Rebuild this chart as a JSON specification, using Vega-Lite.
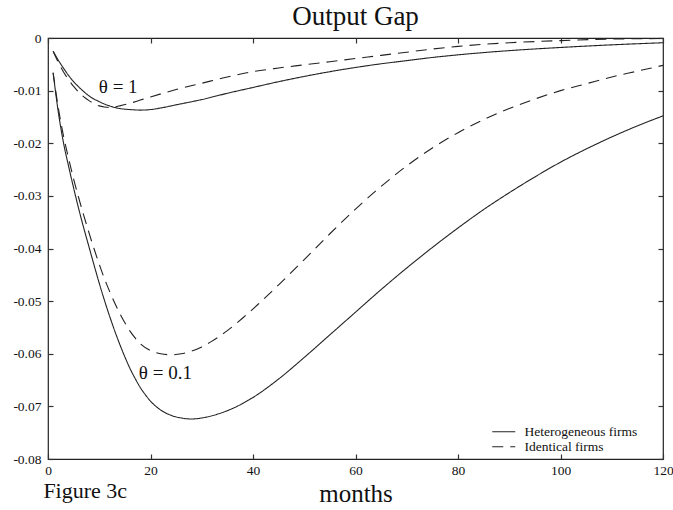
{
  "$schema": "https://vega.github.io/schema/vega-lite/v6.json",
  "width": 615,
  "height": 421,
  "autosize": "none",
  "padding": {"left": 48, "top": 38, "right": 10, "bottom": 51},
  "background": "white",
  "config": {
    "font": "Liberation Serif",
    "view": {"stroke": "#222", "strokeWidth": 1.2},
    "axis": {"grid": false, "domain": false, "ticks": true, "tickSize": 5, "offset": -5, "tickColor": "#333", "tickWidth": 1.2, "labelColor": "#111", "titleColor": "#111", "labelFont": "Liberation Serif", "titleFont": "Liberation Serif", "titleFontWeight": "normal"}
  },
  "title": {"text": "Output Gap", "fontSize": 27, "fontWeight": "normal", "font": "Liberation Serif", "color": "#111", "anchor": "middle", "offset": 0},
  "datasets": {
    "curves": [
      {"month": 1, "gap": -0.0025, "theta": "1", "firms": "Heterogeneous firms"},
      {"month": 2, "gap": -0.0042, "theta": "1", "firms": "Heterogeneous firms"},
      {"month": 3, "gap": -0.0057, "theta": "1", "firms": "Heterogeneous firms"},
      {"month": 4, "gap": -0.0071, "theta": "1", "firms": "Heterogeneous firms"},
      {"month": 5, "gap": -0.0083, "theta": "1", "firms": "Heterogeneous firms"},
      {"month": 6, "gap": -0.0093, "theta": "1", "firms": "Heterogeneous firms"},
      {"month": 7, "gap": -0.0102, "theta": "1", "firms": "Heterogeneous firms"},
      {"month": 8, "gap": -0.0110, "theta": "1", "firms": "Heterogeneous firms"},
      {"month": 10, "gap": -0.0121, "theta": "1", "firms": "Heterogeneous firms"},
      {"month": 12, "gap": -0.0129, "theta": "1", "firms": "Heterogeneous firms"},
      {"month": 14, "gap": -0.0134, "theta": "1", "firms": "Heterogeneous firms"},
      {"month": 16, "gap": -0.0136, "theta": "1", "firms": "Heterogeneous firms"},
      {"month": 18, "gap": -0.0137, "theta": "1", "firms": "Heterogeneous firms"},
      {"month": 20, "gap": -0.0136, "theta": "1", "firms": "Heterogeneous firms"},
      {"month": 22, "gap": -0.0133, "theta": "1", "firms": "Heterogeneous firms"},
      {"month": 25, "gap": -0.0127, "theta": "1", "firms": "Heterogeneous firms"},
      {"month": 30, "gap": -0.0117, "theta": "1", "firms": "Heterogeneous firms"},
      {"month": 35, "gap": -0.0105, "theta": "1", "firms": "Heterogeneous firms"},
      {"month": 40, "gap": -0.0094, "theta": "1", "firms": "Heterogeneous firms"},
      {"month": 45, "gap": -0.0083, "theta": "1", "firms": "Heterogeneous firms"},
      {"month": 50, "gap": -0.0073, "theta": "1", "firms": "Heterogeneous firms"},
      {"month": 55, "gap": -0.0064, "theta": "1", "firms": "Heterogeneous firms"},
      {"month": 60, "gap": -0.0056, "theta": "1", "firms": "Heterogeneous firms"},
      {"month": 65, "gap": -0.0049, "theta": "1", "firms": "Heterogeneous firms"},
      {"month": 70, "gap": -0.0043, "theta": "1", "firms": "Heterogeneous firms"},
      {"month": 75, "gap": -0.0037, "theta": "1", "firms": "Heterogeneous firms"},
      {"month": 80, "gap": -0.0032, "theta": "1", "firms": "Heterogeneous firms"},
      {"month": 90, "gap": -0.0024, "theta": "1", "firms": "Heterogeneous firms"},
      {"month": 100, "gap": -0.0018, "theta": "1", "firms": "Heterogeneous firms"},
      {"month": 110, "gap": -0.0013, "theta": "1", "firms": "Heterogeneous firms"},
      {"month": 120, "gap": -0.0009, "theta": "1", "firms": "Heterogeneous firms"},

      {"month": 1, "gap": -0.0025, "theta": "1", "firms": "Identical firms"},
      {"month": 2, "gap": -0.0046, "theta": "1", "firms": "Identical firms"},
      {"month": 3, "gap": -0.0064, "theta": "1", "firms": "Identical firms"},
      {"month": 4, "gap": -0.0079, "theta": "1", "firms": "Identical firms"},
      {"month": 5, "gap": -0.0092, "theta": "1", "firms": "Identical firms"},
      {"month": 6, "gap": -0.0103, "theta": "1", "firms": "Identical firms"},
      {"month": 7, "gap": -0.0112, "theta": "1", "firms": "Identical firms"},
      {"month": 8, "gap": -0.0119, "theta": "1", "firms": "Identical firms"},
      {"month": 9, "gap": -0.0125, "theta": "1", "firms": "Identical firms"},
      {"month": 10, "gap": -0.0129, "theta": "1", "firms": "Identical firms"},
      {"month": 11, "gap": -0.0131, "theta": "1", "firms": "Identical firms"},
      {"month": 12, "gap": -0.0132, "theta": "1", "firms": "Identical firms"},
      {"month": 13, "gap": -0.0131, "theta": "1", "firms": "Identical firms"},
      {"month": 14, "gap": -0.0129, "theta": "1", "firms": "Identical firms"},
      {"month": 16, "gap": -0.0124, "theta": "1", "firms": "Identical firms"},
      {"month": 18, "gap": -0.0118, "theta": "1", "firms": "Identical firms"},
      {"month": 20, "gap": -0.0112, "theta": "1", "firms": "Identical firms"},
      {"month": 25, "gap": -0.0098, "theta": "1", "firms": "Identical firms"},
      {"month": 30, "gap": -0.0086, "theta": "1", "firms": "Identical firms"},
      {"month": 35, "gap": -0.0074, "theta": "1", "firms": "Identical firms"},
      {"month": 40, "gap": -0.0064, "theta": "1", "firms": "Identical firms"},
      {"month": 45, "gap": -0.0057, "theta": "1", "firms": "Identical firms"},
      {"month": 50, "gap": -0.0051, "theta": "1", "firms": "Identical firms"},
      {"month": 55, "gap": -0.0045, "theta": "1", "firms": "Identical firms"},
      {"month": 60, "gap": -0.0039, "theta": "1", "firms": "Identical firms"},
      {"month": 65, "gap": -0.0033, "theta": "1", "firms": "Identical firms"},
      {"month": 70, "gap": -0.0027, "theta": "1", "firms": "Identical firms"},
      {"month": 75, "gap": -0.0021, "theta": "1", "firms": "Identical firms"},
      {"month": 80, "gap": -0.0016, "theta": "1", "firms": "Identical firms"},
      {"month": 85, "gap": -0.0012, "theta": "1", "firms": "Identical firms"},
      {"month": 90, "gap": -0.0009, "theta": "1", "firms": "Identical firms"},
      {"month": 100, "gap": -0.0005, "theta": "1", "firms": "Identical firms"},
      {"month": 110, "gap": -0.0002, "theta": "1", "firms": "Identical firms"},
      {"month": 120, "gap": -0.0001, "theta": "1", "firms": "Identical firms"},

      {"month": 1, "gap": -0.0066, "theta": "0.1", "firms": "Heterogeneous firms"},
      {"month": 2, "gap": -0.0140, "theta": "0.1", "firms": "Heterogeneous firms"},
      {"month": 3, "gap": -0.0198, "theta": "0.1", "firms": "Heterogeneous firms"},
      {"month": 4, "gap": -0.0243, "theta": "0.1", "firms": "Heterogeneous firms"},
      {"month": 5, "gap": -0.0285, "theta": "0.1", "firms": "Heterogeneous firms"},
      {"month": 6, "gap": -0.0325, "theta": "0.1", "firms": "Heterogeneous firms"},
      {"month": 7, "gap": -0.0362, "theta": "0.1", "firms": "Heterogeneous firms"},
      {"month": 8, "gap": -0.0397, "theta": "0.1", "firms": "Heterogeneous firms"},
      {"month": 9, "gap": -0.0432, "theta": "0.1", "firms": "Heterogeneous firms"},
      {"month": 10, "gap": -0.0466, "theta": "0.1", "firms": "Heterogeneous firms"},
      {"month": 11, "gap": -0.0498, "theta": "0.1", "firms": "Heterogeneous firms"},
      {"month": 12, "gap": -0.0528, "theta": "0.1", "firms": "Heterogeneous firms"},
      {"month": 13, "gap": -0.0556, "theta": "0.1", "firms": "Heterogeneous firms"},
      {"month": 14, "gap": -0.0582, "theta": "0.1", "firms": "Heterogeneous firms"},
      {"month": 15, "gap": -0.0606, "theta": "0.1", "firms": "Heterogeneous firms"},
      {"month": 16, "gap": -0.0628, "theta": "0.1", "firms": "Heterogeneous firms"},
      {"month": 17, "gap": -0.0647, "theta": "0.1", "firms": "Heterogeneous firms"},
      {"month": 18, "gap": -0.0664, "theta": "0.1", "firms": "Heterogeneous firms"},
      {"month": 19, "gap": -0.0678, "theta": "0.1", "firms": "Heterogeneous firms"},
      {"month": 20, "gap": -0.0690, "theta": "0.1", "firms": "Heterogeneous firms"},
      {"month": 22, "gap": -0.0707, "theta": "0.1", "firms": "Heterogeneous firms"},
      {"month": 24, "gap": -0.0717, "theta": "0.1", "firms": "Heterogeneous firms"},
      {"month": 26, "gap": -0.0722, "theta": "0.1", "firms": "Heterogeneous firms"},
      {"month": 28, "gap": -0.0724, "theta": "0.1", "firms": "Heterogeneous firms"},
      {"month": 30, "gap": -0.0722, "theta": "0.1", "firms": "Heterogeneous firms"},
      {"month": 33, "gap": -0.0715, "theta": "0.1", "firms": "Heterogeneous firms"},
      {"month": 36, "gap": -0.0704, "theta": "0.1", "firms": "Heterogeneous firms"},
      {"month": 40, "gap": -0.0683, "theta": "0.1", "firms": "Heterogeneous firms"},
      {"month": 45, "gap": -0.0648, "theta": "0.1", "firms": "Heterogeneous firms"},
      {"month": 50, "gap": -0.0607, "theta": "0.1", "firms": "Heterogeneous firms"},
      {"month": 55, "gap": -0.0564, "theta": "0.1", "firms": "Heterogeneous firms"},
      {"month": 60, "gap": -0.0521, "theta": "0.1", "firms": "Heterogeneous firms"},
      {"month": 65, "gap": -0.0478, "theta": "0.1", "firms": "Heterogeneous firms"},
      {"month": 70, "gap": -0.0437, "theta": "0.1", "firms": "Heterogeneous firms"},
      {"month": 75, "gap": -0.0398, "theta": "0.1", "firms": "Heterogeneous firms"},
      {"month": 80, "gap": -0.0361, "theta": "0.1", "firms": "Heterogeneous firms"},
      {"month": 85, "gap": -0.0326, "theta": "0.1", "firms": "Heterogeneous firms"},
      {"month": 90, "gap": -0.0294, "theta": "0.1", "firms": "Heterogeneous firms"},
      {"month": 95, "gap": -0.0264, "theta": "0.1", "firms": "Heterogeneous firms"},
      {"month": 100, "gap": -0.0236, "theta": "0.1", "firms": "Heterogeneous firms"},
      {"month": 105, "gap": -0.0211, "theta": "0.1", "firms": "Heterogeneous firms"},
      {"month": 110, "gap": -0.0188, "theta": "0.1", "firms": "Heterogeneous firms"},
      {"month": 115, "gap": -0.0167, "theta": "0.1", "firms": "Heterogeneous firms"},
      {"month": 120, "gap": -0.0148, "theta": "0.1", "firms": "Heterogeneous firms"},

      {"month": 1, "gap": -0.0066, "theta": "0.1", "firms": "Identical firms"},
      {"month": 2, "gap": -0.0132, "theta": "0.1", "firms": "Identical firms"},
      {"month": 3, "gap": -0.0185, "theta": "0.1", "firms": "Identical firms"},
      {"month": 4, "gap": -0.0228, "theta": "0.1", "firms": "Identical firms"},
      {"month": 5, "gap": -0.0268, "theta": "0.1", "firms": "Identical firms"},
      {"month": 6, "gap": -0.0304, "theta": "0.1", "firms": "Identical firms"},
      {"month": 7, "gap": -0.0338, "theta": "0.1", "firms": "Identical firms"},
      {"month": 8, "gap": -0.0370, "theta": "0.1", "firms": "Identical firms"},
      {"month": 9, "gap": -0.0401, "theta": "0.1", "firms": "Identical firms"},
      {"month": 10, "gap": -0.0430, "theta": "0.1", "firms": "Identical firms"},
      {"month": 11, "gap": -0.0457, "theta": "0.1", "firms": "Identical firms"},
      {"month": 12, "gap": -0.0481, "theta": "0.1", "firms": "Identical firms"},
      {"month": 13, "gap": -0.0503, "theta": "0.1", "firms": "Identical firms"},
      {"month": 14, "gap": -0.0523, "theta": "0.1", "firms": "Identical firms"},
      {"month": 15, "gap": -0.0541, "theta": "0.1", "firms": "Identical firms"},
      {"month": 16, "gap": -0.0557, "theta": "0.1", "firms": "Identical firms"},
      {"month": 17, "gap": -0.0570, "theta": "0.1", "firms": "Identical firms"},
      {"month": 18, "gap": -0.0581, "theta": "0.1", "firms": "Identical firms"},
      {"month": 20, "gap": -0.0594, "theta": "0.1", "firms": "Identical firms"},
      {"month": 22, "gap": -0.0600, "theta": "0.1", "firms": "Identical firms"},
      {"month": 24, "gap": -0.0602, "theta": "0.1", "firms": "Identical firms"},
      {"month": 26, "gap": -0.0600, "theta": "0.1", "firms": "Identical firms"},
      {"month": 28, "gap": -0.0595, "theta": "0.1", "firms": "Identical firms"},
      {"month": 30, "gap": -0.0587, "theta": "0.1", "firms": "Identical firms"},
      {"month": 32, "gap": -0.0576, "theta": "0.1", "firms": "Identical firms"},
      {"month": 35, "gap": -0.0556, "theta": "0.1", "firms": "Identical firms"},
      {"month": 38, "gap": -0.0532, "theta": "0.1", "firms": "Identical firms"},
      {"month": 41, "gap": -0.0506, "theta": "0.1", "firms": "Identical firms"},
      {"month": 45, "gap": -0.0469, "theta": "0.1", "firms": "Identical firms"},
      {"month": 50, "gap": -0.0421, "theta": "0.1", "firms": "Identical firms"},
      {"month": 55, "gap": -0.0372, "theta": "0.1", "firms": "Identical firms"},
      {"month": 60, "gap": -0.0325, "theta": "0.1", "firms": "Identical firms"},
      {"month": 65, "gap": -0.0282, "theta": "0.1", "firms": "Identical firms"},
      {"month": 70, "gap": -0.0243, "theta": "0.1", "firms": "Identical firms"},
      {"month": 75, "gap": -0.0209, "theta": "0.1", "firms": "Identical firms"},
      {"month": 80, "gap": -0.0180, "theta": "0.1", "firms": "Identical firms"},
      {"month": 85, "gap": -0.0155, "theta": "0.1", "firms": "Identical firms"},
      {"month": 90, "gap": -0.0134, "theta": "0.1", "firms": "Identical firms"},
      {"month": 95, "gap": -0.0116, "theta": "0.1", "firms": "Identical firms"},
      {"month": 100, "gap": -0.0100, "theta": "0.1", "firms": "Identical firms"},
      {"month": 105, "gap": -0.0087, "theta": "0.1", "firms": "Identical firms"},
      {"month": 110, "gap": -0.0074, "theta": "0.1", "firms": "Identical firms"},
      {"month": 115, "gap": -0.0063, "theta": "0.1", "firms": "Identical firms"},
      {"month": 120, "gap": -0.0052, "theta": "0.1", "firms": "Identical firms"}
    ],
    "labels": [
      {"month": 13.7, "gap": -0.0094, "label": "θ = 1"},
      {"month": 22.9, "gap": -0.0637, "label": "θ = 0.1"}
    ],
    "caption": [
      {"month": -0.9, "gap": -0.0875, "label": "Figure 3c"}
    ]
  },
  "resolve": {"axis": {"x": "independent", "y": "independent"}},
  "layer": [
    {
      "data": {"name": "curves"},
      "mark": {"type": "line", "color": "#222", "strokeWidth": 1.1, "interpolate": "monotone", "clip": true},
      "encoding": {
        "x": {
          "field": "month", "type": "quantitative",
          "scale": {"domain": [0, 120], "nice": false, "zero": false},
          "axis": {"orient": "bottom", "title": "months", "values": [0, 20, 40, 60, 80, 100, 120], "labelFont": "Liberation Serif", "labelFontSize": 13.5, "labelPadding": 4, "titleFontSize": 25, "titlePadding": 5, "labelFlush": false}
        },
        "y": {
          "field": "gap", "type": "quantitative",
          "scale": {"domain": [-0.08, 0], "nice": false, "zero": false},
          "axis": {"orient": "left", "title": null, "values": [-0.08, -0.07, -0.06, -0.05, -0.04, -0.03, -0.02, -0.01, 0], "labelFont": "Liberation Serif", "labelFontSize": 13.5, "labelPadding": 7, "labelFlush": false, "labelExpr": "datum.value == 0 ? '0' : '-' + format(abs(datum.value), '.2f')"}
        },
        "detail": {"field": "theta", "type": "nominal"},
        "strokeDash": {
          "field": "firms", "type": "nominal",
          "scale": {"domain": ["Heterogeneous firms", "Identical firms"], "range": [[1, 0], [11, 7]]},
          "legend": {"title": null, "orient": "none", "legendX": 449, "legendY": 387, "symbolType": "M-2,0H2", "symbolSize": 132, "symbolStrokeWidth": 1.1, "symbolStrokeColor": "#222", "symbolFillColor": "transparent", "labelFont": "Liberation Serif", "labelFontSize": 13.5, "labelColor": "#111", "labelOffset": 14, "rowPadding": 0}
        }
      }
    },
    {
      "data": {"name": "labels"},
      "mark": {"type": "text", "fontSize": 19, "font": "Liberation Serif", "color": "#111", "align": "center", "baseline": "middle"},
      "encoding": {
        "x": {"field": "month", "type": "quantitative", "axis": {"orient": "top", "title": null, "labels": false, "values": [0, 20, 40, 60, 80, 100, 120]}},
        "y": {"field": "gap", "type": "quantitative", "axis": {"orient": "right", "title": null, "labels": false, "values": [-0.08, -0.07, -0.06, -0.05, -0.04, -0.03, -0.02, -0.01, 0]}},
        "text": {"field": "label"}
      }
    },
    {
      "data": {"name": "caption"},
      "mark": {"type": "text", "fontSize": 22, "font": "Liberation Serif", "color": "#111", "align": "left", "baseline": "alphabetic", "clip": false},
      "encoding": {
        "x": {"field": "month", "type": "quantitative", "axis": null},
        "y": {"field": "gap", "type": "quantitative", "axis": null},
        "text": {"field": "label"}
      }
    }
  ]
}
